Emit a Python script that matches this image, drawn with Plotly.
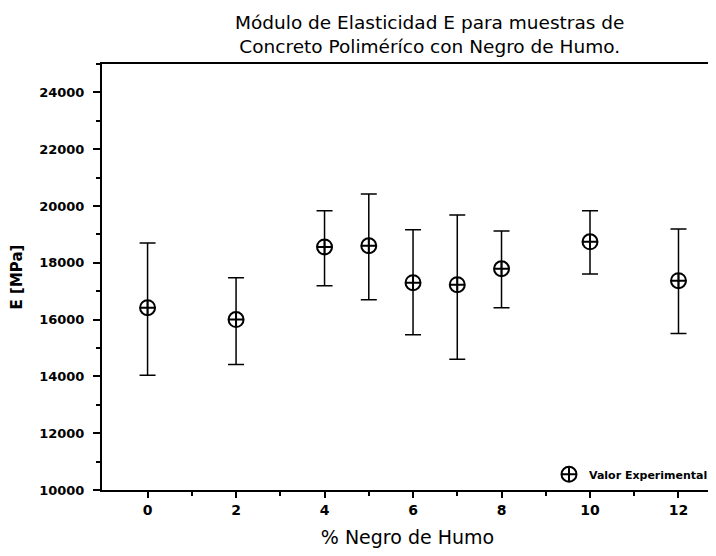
import plotly.graph_objects as go

# % negro de humo vs modulo E (MPa), barras de error asimetricas
pct_negro = [0, 2, 4, 5, 6, 7, 8, 10, 12]
e_medio = [16420, 16000, 18560, 18600, 17300, 17230, 17790, 18740, 17370]
e_max = [18700, 17470, 19830, 20420, 19160, 19680, 19120, 19830, 19190]
e_min = [14040, 14420, 17190, 16700, 15470, 14600, 16420, 17610, 15510]

err_up = [hi - m for hi, m in zip(e_max, e_medio)]
err_down = [m - lo for lo, m in zip(e_min, e_medio)]

font_fam = "DejaVu Sans, Liberation Sans, Arial, sans-serif"

fig = go.Figure()
fig.add_trace(go.Scatter(
    x=pct_negro,
    y=e_medio,
    mode='markers',
    name='Valor Experimental',
    marker=dict(symbol='circle-cross-open', size=15, color='black',
                line=dict(color='black', width=2)),
    error_y=dict(type='data', symmetric=False, array=err_up, arrayminus=err_down,
                 color='black', thickness=1.5, width=8),
))

# the page body adds an 8px offset, margins compensate for it
fig.update_layout(
    width=716, height=556,
    margin=dict(l=94, r=11, t=56, b=74, autoexpand=False),
    paper_bgcolor='white', plot_bgcolor='white',
    font=dict(family=font_fam, color='black'),
    title=dict(
        text='Módulo de Elasticidad E para muestras de<br>Concreto Poliméríco con Negro de Humo.',
        x=0.589, xanchor='center', y=0.963, yanchor='middle',
        font=dict(size=18.5, family=font_fam),
    ),
    showlegend=True,
    legend=dict(x=1.0, y=0.003, xanchor='right', yanchor='bottom',
                bgcolor='rgba(0,0,0,0)', font=dict(size=11, family=font_fam, weight='bold')),
    xaxis=dict(
        range=[-1.03, 12.78],
        tickvals=[0, 2, 4, 6, 8, 10, 12],
        ticks='outside', ticklen=6, tickwidth=2, tickcolor='black',
        minor=dict(tickvals=[1, 3, 5, 7, 9, 11], ticks='outside', ticklen=4,
                   tickwidth=1.5, tickcolor='black'),
        showline=True, linecolor='black', linewidth=2, mirror=True,
        showgrid=False, zeroline=False,
        tickfont=dict(size=14, weight='bold'),
        title=dict(text='% Negro de Humo', font=dict(size=19), standoff=14),
    ),
    yaxis=dict(
        range=[10000, 25000],
        tickvals=[10000, 12000, 14000, 16000, 18000, 20000, 22000, 24000],
        tickformat='d',
        ticks='outside', ticklen=7, tickwidth=2, tickcolor='black',
        ticklabelstandoff=6,
        minor=dict(dtick=1000, ticks='outside', ticklen=4, tickwidth=1.5, tickcolor='black'),
        showline=True, linecolor='black', linewidth=2,
        showgrid=False, zeroline=False,
        tickfont=dict(size=13, weight='bold'),
        title=dict(text='E [MPa]', font=dict(size=15, weight='bold'), standoff=18),
    ),
)

fig.write_html("out.html")
